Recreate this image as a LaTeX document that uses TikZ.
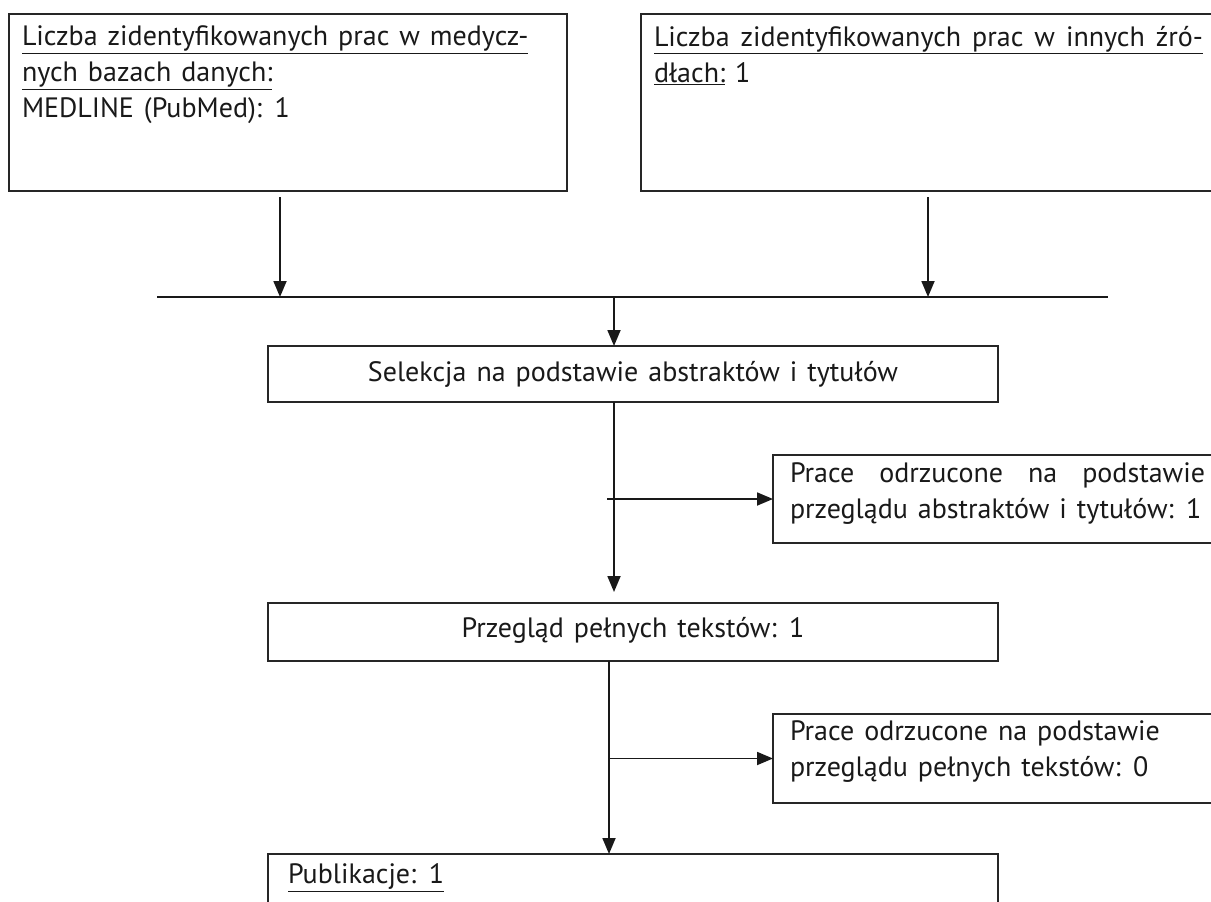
\documentclass[tikz,border=0pt]{standalone}
\usepackage{fontspec}
\setmainfont{PT Sans}
\usetikzlibrary{arrows.meta,calc}
\newcommand\mytxtfont{\fontsize{28}{36}\selectfont\spaceskip=10pt plus 40pt minus 2pt\relax}
\begin{document}
\begin{tikzpicture}[x=1pt,y=-1pt,
  box/.style={draw=black!85, line width=1.8pt, inner sep=0pt, outer sep=0pt, anchor=north west},
  txt/.style={inner sep=0pt, outer sep=0pt, font=\mytxtfont, align=left, text=black!90},
  arr/.style={draw=black!90, line width=1.8pt, -{Triangle[length=16pt,width=13pt]}},
  ln/.style={draw=black!90, line width=1.8pt}]
\useasboundingbox[fill=white] (0,0) rectangle (1211,902);
% boxes
\node[box, minimum width=558pt, minimum height=177pt] (b1) at (9,14) {};
\node[box, minimum width=580pt, minimum height=177pt] (b2) at (641,14) {};
\node[box, minimum width=730pt, minimum height=56pt] (b3) at (268,346) {};
\node[box, minimum width=450pt, minimum height=88pt] (b4) at (773,455) {};
\node[box, minimum width=730pt, minimum height=58pt] (b5) at (268,603) {};
\node[box, minimum width=450pt, minimum height=89pt] (b6) at (773,714) {};
\node[box, minimum width=730pt, minimum height=80pt] (b7) at (268,854) {};
% texts
\node[txt, anchor=north west] (t1) at (22,26) {\underline{Liczba zidentyfikowanych prac w medycz-}\\\underline{nych bazach danych:}\\MEDLINE (PubMed): 1};
\node[txt, anchor=north west] (t2) at (654,26) {\underline{\makebox[549pt][s]{Liczba zidentyfikowanych prac w innych źró-}}\\\underline{dłach:} 1};
\node[txt] (t3) at (b3.center) {Selekcja na podstawie abstraktów i tytułów};
\node[txt, anchor=north west] (t4) at (790,463) {\makebox[415pt][s]{Prace odrzucone na podstawie}\\przeglądu abstraktów i tytułów: 1};
\node[txt] (t5) at ([yshift=2pt]b5.center) {Przegląd pełnych tekstów: 1};
\node[txt, anchor=north west] (t6) at (790,721) {Prace odrzucone na podstawie\\przeglądu pełnych tekstów: 0};
\node[txt, anchor=north west] (t7) at (288,864) {\underline{Publikacje: 1}};
% connectors
\coordinate (hl) at (157,297);
\coordinate (hr) at (1108,297);
\coordinate (a1) at (280,297);
\coordinate (a2) at (928,297);
\coordinate (m) at (614,297);
\coordinate (m2) at (609,297);
\coordinate (s1) at (607,297);
\draw[ln] (hl) -- (hr);
\draw[arr] ($(b1.south -| a1)+(0,6)$) -- (a1);
\draw[arr] ($(b2.south -| a2)+(0,6)$) -- (a2);
\draw[arr] (m) -- (m |- b3.north);
\draw[arr, shorten >=11pt] (m |- b3.south) -- (m |- b5.north);
\draw[arr] (s1 |- b4.west) -- (b4.west);
\draw[arr] (m2 |- b5.south) -- (m2 |- b7.north);
\draw[arr] (m2 |- b6.west) -- (b6.west);
\end{tikzpicture}
\end{document}
